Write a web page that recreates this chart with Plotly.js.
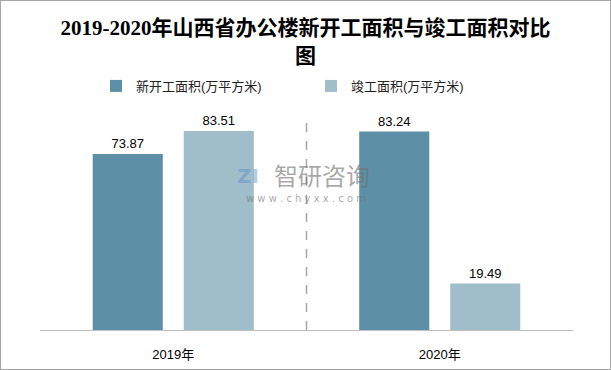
<!DOCTYPE html>
<html>
<head>
<meta charset="utf-8">
<script src="https://cdn.plot.ly/plotly-3.0.1.min.js"></script>
<style>
html,body{margin:0;padding:0;background:#fff;}
#wrap{width:609px;height:368px;border:1px solid #a6a6a6;}
#chart{width:609px;height:368px;}
</style>
</head>
<body>
<div id="wrap"><div id="chart"></div></div>
<script>
var categories = ["2019年", "2020年"];
var seriesNames = ["新开工面积(万平方米)", "竣工面积(万平方米)"];
var newStart = [73.87, 83.24];
var completed = [83.51, 19.49];
var titleText = "2019-2020年山西省办公楼新开工面积与竣工面积对比<br>图";

var cjk = "'Liberation Sans', 'Noto Sans CJK SC', sans-serif";
var traces = [
  {type:'bar', name:seriesNames[0], x:categories, y:newStart,
   text:newStart.map(function(v){return v.toFixed(2);}), textposition:'outside',
   textfont:{family:cjk, size:13, color:'#000'}, cliponaxis:false,
   marker:{color:'#5d90a6'}, hoverinfo:'none'},
  {type:'bar', name:seriesNames[1], x:categories, y:completed,
   text:completed.map(function(v){return v.toFixed(2);}), textposition:'outside',
   textfont:{family:cjk, size:13, color:'#000'}, cliponaxis:false,
   marker:{color:'#a0bdca'}, hoverinfo:'none'}
];
var layout = {
  width:609, height:368,
  margin:{l:39, r:37, t:99, b:39},
  paper_bgcolor:'#fff', plot_bgcolor:'#fff',
  title:{text:titleText, x:0.5, xanchor:'center', yref:'container', y:0.907, yanchor:'top',
    font:{family:"'Liberation Serif', 'Noto Sans CJK SC', serif", size:21, color:'#000', weight:'bold'}},
  barmode:'group', bargap:0.317, bargroupgap:0.23,
  showlegend:true,
  legend:{orientation:'h', x:(95-39)/533, xanchor:'left', y:1.061, yanchor:'middle',
    font:{family:cjk, size:13, color:'#222'}, traceorder:'normal',
    entrywidth:170, entrywidthmode:'pixels', itemwidth:30},
  xaxis:{type:'category', showline:true, linecolor:'#bfbfbf', linewidth:1,
    ticks:'', showgrid:false, zeroline:false,
    tickfont:{family:cjk, size:13, color:'#000'}, ticklabelstandoff:12},
  yaxis:{range:[0,96.5], visible:false, showgrid:false, zeroline:false},
  shapes:[{type:'line', xref:'x', yref:'y', x0:0.5, x1:0.5, y0:0, y1:90,
    line:{color:'#a6a6a6', width:1.5, dash:'dash'}}],
  annotations:[
    {text:'智研咨询', xref:'paper', yref:'paper', x:(321-39)/533, y:(330-174)/230,
     xanchor:'center', yanchor:'middle',
     showarrow:false, font:{family:"'Noto Sans CJK SC', sans-serif", size:24, color:'rgba(110,110,110,0.6)'}},
    {text:'w w w . c h y x x . c o m', xref:'paper', yref:'paper', x:(305-39)/533, y:(330-198)/230,
     xanchor:'center', yanchor:'middle',
     showarrow:false, font:{family:"'DejaVu Sans', sans-serif", size:10, color:'rgba(110,110,110,0.6)'}},
    {text:'<b>ZI</b>', xref:'paper', yref:'paper', x:(247-39)/533, y:(330-176)/230,
     xanchor:'center', yanchor:'middle',
     showarrow:false, font:{family:"'DejaVu Sans', sans-serif", size:20, color:'rgba(90,140,200,0.45)'}}
  ]
};
Plotly.newPlot('chart', traces, layout, {displayModeBar:false, staticPlot:true});
</script>
</body>
</html>
